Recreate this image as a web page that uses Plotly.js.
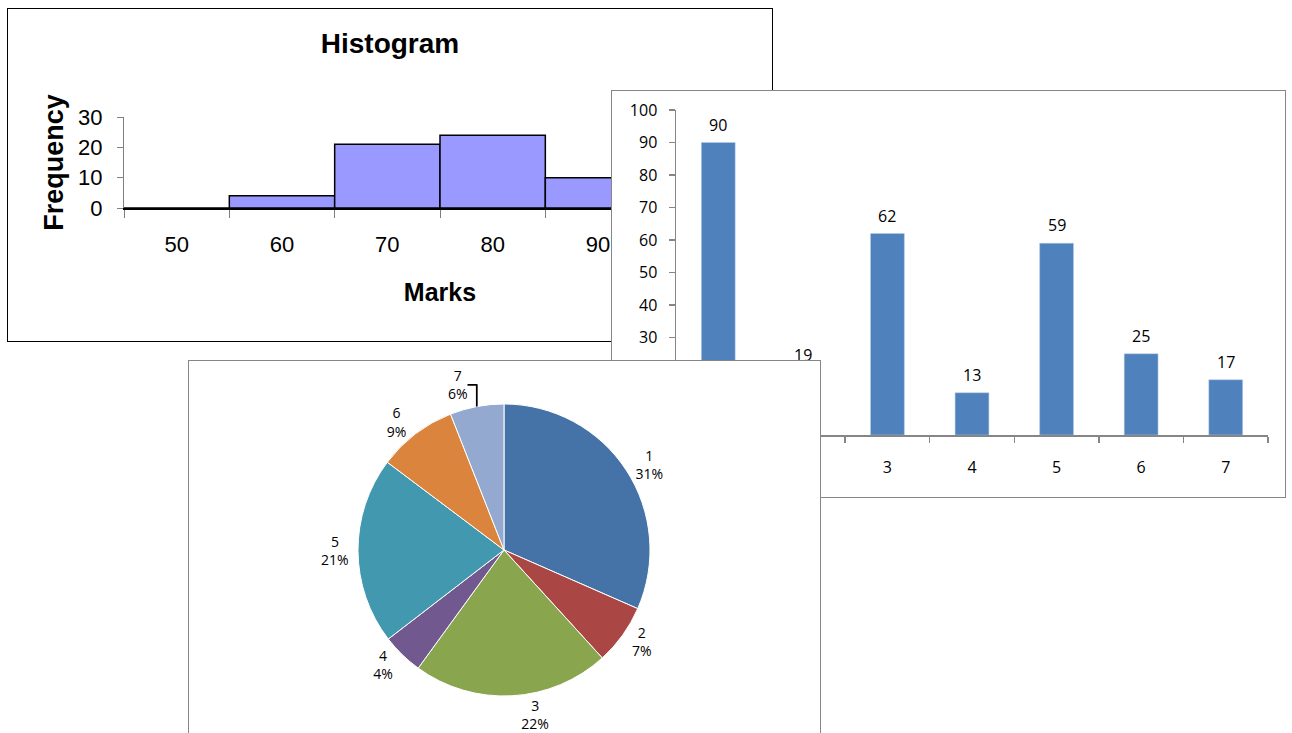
<!DOCTYPE html>
<html>
<head>
<meta charset="utf-8">
<script src="https://cdn.plot.ly/plotly-3.0.1.min.js"></script>
<style>
html, body { margin:0; padding:0; width:1292px; height:733px; overflow:hidden; background:#fff; }
.panel { position:absolute; background:#fff; box-sizing:border-box; }
#histWrap { left:7px; top:8px; width:766px; height:334px; border:1px solid #000; z-index:1; }
#barWrap  { left:611px; top:90px; width:675px; height:408px; border:1px solid #868686; z-index:2; }
#pieWrap  { left:188px; top:360px; width:633px; height:400px; border:1px solid #868686; z-index:3; }
</style>
</head>
<body>
<div id="histWrap" class="panel"><div id="hist"></div></div>
<div id="barWrap" class="panel"><div id="bar"></div></div>
<div id="pieWrap" class="panel"><div id="pie"></div></div>
<script>
// ---- data ----
const histBins = ['50', '60', '70', '80', '90'];
const histFreq = [0, 4, 21, 24, 10];

const barCats = ['1', '2', '3', '4', '5', '6', '7'];
const barValues = [90, 19, 62, 13, 59, 25, 17];

const pieCats = ['1', '2', '3', '4', '5', '6', '7'];
const pieValues = [90, 19, 62, 13, 59, 25, 17];
const piePctLabels = ['31%', '7%', '22%', '4%', '21%', '9%', '6%'];

const cfg = { displayModeBar: false, staticPlot: true };
const arial = 'Liberation Sans, Arial, sans-serif';
const cal = 'Open Sans, Noto Sans, sans-serif';

// ---- histogram ----
Plotly.newPlot('hist', [{
  type: 'bar', x: histBins, y: histFreq,
  marker: { color: '#9999FF', line: { color: '#000000', width: 1.5 } },
  hoverinfo: 'skip'
}], {
  width: 764, height: 332,
  margin: { l: 116, r: 16, t: 108, b: 133 },
  paper_bgcolor: '#fff', plot_bgcolor: '#fff',
  bargap: 0, showlegend: false,
  title: { text: 'Histogram', x: 0.5, xref: 'container', y: 0.898, yref: 'container', yanchor: 'middle',
           font: { family: arial, size: 28, color: '#000', weight: 'bold' } },
  xaxis: {
    type: 'category', range: [-0.5, 5.5], tickson: 'boundaries',
    ticks: 'outside', ticklen: 8, tickcolor: '#808080', tickwidth: 1,
    showline: true, linecolor: '#000', linewidth: 1.5, showgrid: false, zeroline: false,
    tickfont: { family: arial, size: 22, color: '#000' }, ticklabelstandoff: 16,
    title: { text: 'Marks', standoff: 27, font: { family: arial, size: 25, color: '#000', weight: 'bold' } },
    fixedrange: true
  },
  yaxis: {
    range: [0, 30], dtick: 10, ticks: 'outside', ticklen: 6, tickcolor: '#808080',
    showline: true, linecolor: '#808080', linewidth: 1, showgrid: false, zeroline: false,
    tickfont: { family: arial, size: 22, color: '#000' }, ticklabelstandoff: 10,
    title: { text: 'Frequency', standoff: 6, font: { family: arial, size: 27, color: '#000', weight: 'bold' } },
    fixedrange: true
  }
}, cfg);

// ---- bar chart ----
Plotly.newPlot('bar', [{
  type: 'bar', x: barCats, y: barValues,
  marker: { color: '#4F81BD', line: { color: '#B9CDE5', width: 0.5 } },
  hoverinfo: 'skip'
}], {
  width: 673, height: 406,
  margin: { l: 64, r: 17, t: 19, b: 62 },
  paper_bgcolor: '#fff', plot_bgcolor: '#fff',
  bargap: 0.6, showlegend: false,
  xaxis: {
    type: 'category', range: [-0.5, barCats.length - 0.5], tickson: 'boundaries',
    ticks: 'outside', ticklen: 6, tickcolor: '#868686', tickwidth: 1.5,
    showline: true, linecolor: '#868686', linewidth: 2, showgrid: false, zeroline: false,
    tickfont: { family: cal, size: 16, color: '#000' }, ticklabelstandoff: 17,
    fixedrange: true
  },
  yaxis: {
    range: [0, 100], dtick: 10, ticks: 'outside', ticklen: 6, tickcolor: '#868686', tickwidth: 1.5,
    showline: true, linecolor: '#868686', linewidth: 1.5, showgrid: false, zeroline: false,
    tickfont: { family: cal, size: 16, color: '#000' }, ticklabelstandoff: 8,
    fixedrange: true
  },
  annotations: barCats.map((c, i) => ({
    x: i, y: barValues[i], xref: 'x', yref: 'y', text: String(barValues[i]),
    showarrow: false, yanchor: 'middle', yshift: 18,
    font: { family: cal, size: 16, color: '#000' }
  }))
}, cfg);

// ---- pie chart ----
Plotly.newPlot('pie', [{
  type: 'pie', labels: pieCats, values: pieValues, text: piePctLabels,
  sort: false, direction: 'clockwise', rotation: 0,
  marker: { colors: ['#4572A7', '#AA4643', '#89A54E', '#71588F', '#4198AF', '#DB843D', '#93A9CF'],
            line: { color: '#ffffff', width: 1 } },
  textposition: 'outside', texttemplate: '%{label}<br>%{text}',
  textfont: { family: cal, size: 14, color: '#000' },
  outsidetextfont: { family: cal, size: 14, color: '#000' },
  domain: { x: [0.2678, 0.7306], y: [0.1583, 0.892] },
  hoverinfo: 'skip'
}], {
  width: 631, height: 398,
  margin: { l: 0, r: 0, t: 0, b: 0 },
  paper_bgcolor: '#fff', showlegend: false
}, cfg);
</script>
</body>
</html>
